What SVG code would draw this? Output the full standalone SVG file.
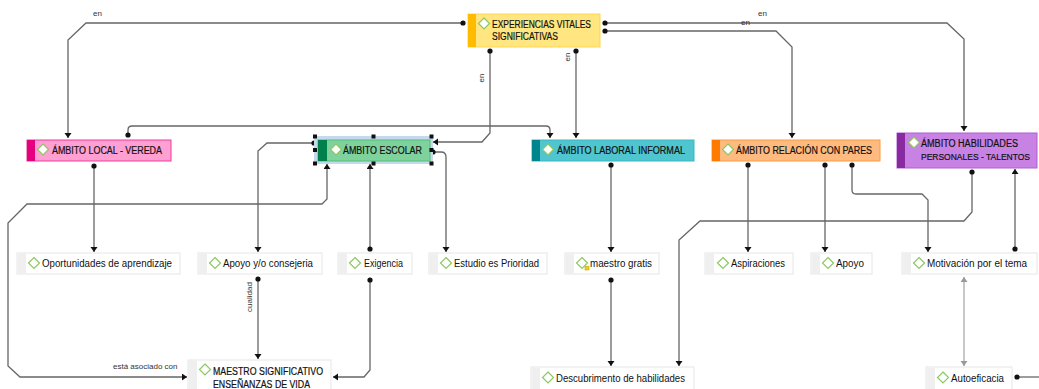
<svg xmlns="http://www.w3.org/2000/svg" width="1039" height="389" viewBox="0 0 1039 389">
<style>
.t{font-family:"Liberation Sans",Arial,sans-serif;font-size:10px;fill:#111}
.h{font-family:"Liberation Sans",Arial,sans-serif;font-size:10px;fill:#111;stroke:#111;stroke-width:0.2}
.lb{font-family:"Liberation Sans",Arial,sans-serif;font-size:8px;fill:#333}
.c{fill:none;stroke:#666;stroke-width:1.3}
.cg{fill:none;stroke:#aaa;stroke-width:1.3}
.dia{fill:#fff;stroke:#8cc861;stroke-width:1.2}
.ls{fill:#efefef}
.lbody{fill:#fff;stroke:#e6e6e6;stroke-width:1}
.hd{fill:#111}
</style>
<defs>
<marker id="arr" markerUnits="userSpaceOnUse" markerWidth="8" markerHeight="8" refX="5" refY="3.5" orient="auto"><path d="M0,0 L5,3.5 L0,7z" fill="#111"/></marker>
<marker id="arrs" markerUnits="userSpaceOnUse" markerWidth="8" markerHeight="8" refX="5" refY="3.5" orient="auto-start-reverse"><path d="M0,0 L5,3.5 L0,7z" fill="#111"/></marker>
<marker id="arrg" markerUnits="userSpaceOnUse" markerWidth="8" markerHeight="8" refX="5" refY="3.5" orient="auto-start-reverse"><path d="M0,0 L5,3.5 L0,7z" fill="#999"/></marker>
<marker id="dot" markerUnits="userSpaceOnUse" markerWidth="7" markerHeight="7" refX="3.5" refY="3.5" orient="auto"><circle cx="3.5" cy="3.5" r="2.6" fill="#111"/></marker>
</defs>

<g id="connectors">
<path class="c" d="M463,23 H86 L68,40 V138" marker-start="url(#dot)" marker-end="url(#arr)"/>
<path class="c" d="M605,23 H947 L964,39 V131" marker-start="url(#dot)" marker-end="url(#arr)"/>
<path class="c" d="M605,31 H776 L792,47 V138" marker-start="url(#dot)" marker-end="url(#arr)"/>
<path class="c" d="M490,51 V133 L482,142 H433" marker-start="url(#dot)" marker-end="url(#arr)"/>
<path class="c" d="M576,51 V138" marker-start="url(#dot)" marker-end="url(#arr)"/>
<path class="c" d="M128,135 V130 Q128,126 132,126 H546 Q550,126 550,130 V138" marker-start="url(#dot)" marker-end="url(#arr)"/>
<path class="c" d="M94,166 V252" marker-start="url(#dot)" marker-end="url(#arr)"/>
<path class="c" d="M314,143 H267 L258,151 V252" marker-start="url(#dot)" marker-end="url(#arr)"/>
<path class="c" d="M370,249 V164" marker-start="url(#dot)" marker-end="url(#arr)"/>
<path class="c" d="M433,152 H441 Q446,152 446,157 V252" marker-start="url(#dot)" marker-end="url(#arr)"/>
<path class="c" d="M370,280 V370 L364,377 H333" marker-start="url(#dot)" marker-end="url(#arr)"/>
<path class="c" d="M258,279 V359" marker-start="url(#dot)" marker-end="url(#arr)"/>
<path class="c" d="M187,377 H20 L8,366 V223 L27,204 H322 L327,199 V164" marker-start="url(#arrs)" marker-end="url(#arrs)"/>
<path class="c" d="M611,165 V252" marker-start="url(#dot)" marker-end="url(#arr)"/>
<path class="c" d="M611,280 V366" marker-start="url(#dot)" marker-end="url(#arr)"/>
<path class="c" d="M972,172 V212 L964,221 H700 L679,240 V366" marker-start="url(#dot)" marker-end="url(#arr)"/>
<path class="c" d="M748,165 V252" marker-start="url(#dot)" marker-end="url(#arr)"/>
<path class="c" d="M825,165 V252" marker-start="url(#dot)" marker-end="url(#arr)"/>
<path class="c" d="M852,165 V190 Q852,194 856,194 H922 L928,200 V252" marker-start="url(#dot)" marker-end="url(#arr)"/>
<path class="c" d="M1015,249 V169" marker-start="url(#dot)" marker-end="url(#arr)"/>
<path class="cg" d="M964,277 V366" marker-start="url(#arrg)" marker-end="url(#arrg)"/>
<path class="c" d="M1017,377 H1039" marker-start="url(#dot)"/>
<text class="lb" x="93" y="16">en</text>
<text class="lb" x="758" y="16">en</text>
<text class="lb" x="741" y="25">en</text>
<text class="lb" transform="translate(484,78) rotate(-90)" text-anchor="middle">en</text>
<text class="lb" transform="translate(570,57) rotate(-90)" text-anchor="middle">en</text>
<text class="lb" transform="translate(252,297) rotate(-90)" text-anchor="middle">cualidad</text>
<text class="lb" x="113" y="369">está asociado con</text>
</g>

<g id="n-experiencias">
<rect x="468" y="14" width="132" height="33" fill="#ffe680" stroke="#ffd54f"/>
<rect x="468" y="14" width="8" height="33" fill="#ffbb00"/>
<path class="dia" d="M484,18 L489.5,23.5 L484,29 L478.5,23.5z"/>
<text class="h" x="492" y="27.5" textLength="99" lengthAdjust="spacingAndGlyphs">EXPERIENCIAS VITALES</text>
<text class="h" x="492" y="39.5" textLength="66" lengthAdjust="spacingAndGlyphs">SIGNIFICATIVAS</text>
</g>

<g id="n-local">
<rect x="27" y="140" width="144" height="21" fill="#ff9fd2" stroke="#ee3b9e"/>
<rect x="27" y="140" width="8" height="21" fill="#e6007e"/>
<path class="dia" d="M43,144 L48.5,149.5 L43,155 L37.5,149.5z"/>
<text class="h" x="52" y="153.5" textLength="110" lengthAdjust="spacingAndGlyphs">ÁMBITO LOCAL - VEREDA</text>
</g>

<g id="n-escolar">
<rect x="314" y="136" width="119" height="28" fill="#c6d8ec"/>
<rect x="318" y="140" width="112" height="21" fill="#7fd29c" stroke="#4fbf77"/>
<rect x="318" y="140" width="9" height="21" fill="#00804a"/>
<path class="dia" d="M336,144 L341.5,149.5 L336,155 L330.5,149.5z"/>
<text class="h" x="343" y="153.5" textLength="79" lengthAdjust="spacingAndGlyphs">ÁMBITO ESCOLAR</text>
<rect class="hd" x="313" y="134.5" width="4" height="4"/>
<rect class="hd" x="371.5" y="134.5" width="4" height="4"/>
<rect class="hd" x="429.5" y="134.5" width="4" height="4"/>
<rect class="hd" x="313" y="161.5" width="4" height="4"/>
<rect class="hd" x="371.5" y="161.5" width="4" height="4"/>
<rect class="hd" x="429.5" y="161.5" width="4" height="4"/>
<rect class="hd" x="313" y="148" width="4" height="4"/>
<rect class="hd" x="429.5" y="148" width="4" height="4"/>
</g>

<g id="n-laboral">
<rect x="532" y="140" width="162" height="21" fill="#4fc6cf" stroke="#3bb8c2"/>
<rect x="532" y="140" width="8" height="21" fill="#00858c"/>
<path class="dia" d="M548,144 L553.5,149.5 L548,155 L542.5,149.5z"/>
<text class="h" x="557" y="153.5" textLength="128" lengthAdjust="spacingAndGlyphs">ÁMBITO LABORAL INFORMAL</text>
</g>

<g id="n-relacion">
<rect x="712" y="140" width="168" height="21" fill="#ffba80" stroke="#ff9a3c"/>
<rect x="712" y="140" width="8" height="21" fill="#ff7a00"/>
<path class="dia" d="M728,144 L733.5,149.5 L728,155 L722.5,149.5z"/>
<text class="h" x="736" y="153.5" textLength="136" lengthAdjust="spacingAndGlyphs">ÁMBITO RELACIÓN CON PARES</text>
</g>

<g id="n-habilidades">
<rect x="897" y="133" width="140" height="35" fill="#c882e4" stroke="#b060d0"/>
<rect x="897" y="133" width="8" height="35" fill="#8a2aa0"/>
<path class="dia" d="M914,137 L919.5,142.5 L914,148 L908.5,142.5z"/>
<text class="h" x="921" y="146.5" textLength="97" lengthAdjust="spacingAndGlyphs">ÁMBITO HABILIDADES</text>
<text class="h" x="921" y="159.5" style="font-size:9.3px" textLength="109" lengthAdjust="spacingAndGlyphs">PERSONALES - TALENTOS</text>
</g>

<g id="n-oportunidades">
<rect class="lbody" x="17" y="253" width="163" height="21"/>
<rect class="ls" x="17.5" y="253.5" width="8.5" height="20"/>
<path class="dia" d="M34,257.5 L39.5,263 L34,268.5 L28.5,263z"/>
<text class="t" x="42" y="267" textLength="130" lengthAdjust="spacingAndGlyphs">Oportunidades de aprendizaje</text>
</g>

<g id="n-apoyo-consejeria">
<rect class="lbody" x="198" y="253" width="124" height="21"/>
<rect class="ls" x="198.5" y="253.5" width="8.5" height="20"/>
<path class="dia" d="M215,257.5 L220.5,263 L215,268.5 L209.5,263z"/>
<text class="t" x="223" y="267" textLength="90" lengthAdjust="spacingAndGlyphs">Apoyo y/o consejeria</text>
</g>

<g id="n-exigencia">
<rect class="lbody" x="338" y="253" width="74" height="21"/>
<rect class="ls" x="338.5" y="253.5" width="8.5" height="20"/>
<path class="dia" d="M355,257.5 L360.5,263 L355,268.5 L349.5,263z"/>
<text class="t" x="364" y="267" textLength="39" lengthAdjust="spacingAndGlyphs">Exigencia</text>
</g>

<g id="n-estudio">
<rect class="lbody" x="429" y="253" width="118" height="21"/>
<rect class="ls" x="429.5" y="253.5" width="8.5" height="20"/>
<path class="dia" d="M446,257.5 L451.5,263 L446,268.5 L440.5,263z"/>
<text class="t" x="454" y="267" textLength="85" lengthAdjust="spacingAndGlyphs">Estudio es Prioridad</text>
</g>

<g id="n-maestro-gratis">
<rect class="lbody" x="565" y="253" width="94" height="21"/>
<rect class="ls" x="565.5" y="253.5" width="8.5" height="20"/>
<path class="dia" d="M582,257.5 L587.5,263 L582,268.5 L576.5,263z"/>
<rect x="585" y="266.5" width="4" height="3.5" fill="#f5d000" stroke="#b89a00" stroke-width="0.5"/>
<text class="t" x="590" y="267" textLength="62" lengthAdjust="spacingAndGlyphs">maestro gratis</text>
</g>

<g id="n-aspiraciones">
<rect class="lbody" x="705" y="253" width="88" height="21"/>
<rect class="ls" x="705.5" y="253.5" width="8.5" height="20"/>
<path class="dia" d="M723,257.5 L728.5,263 L723,268.5 L717.5,263z"/>
<text class="t" x="731" y="267" textLength="54" lengthAdjust="spacingAndGlyphs">Aspiraciones</text>
</g>

<g id="n-apoyo">
<rect class="lbody" x="811" y="253" width="61" height="21"/>
<rect class="ls" x="811.5" y="253.5" width="8.5" height="20"/>
<path class="dia" d="M828,257.5 L833.5,263 L828,268.5 L822.5,263z"/>
<text class="t" x="836" y="267" textLength="28" lengthAdjust="spacingAndGlyphs">Apoyo</text>
</g>

<g id="n-motivacion">
<rect class="lbody" x="902" y="253" width="135" height="21"/>
<rect class="ls" x="902.5" y="253.5" width="8.5" height="20"/>
<path class="dia" d="M919,257.5 L924.5,263 L919,268.5 L913.5,263z"/>
<text class="t" x="927" y="267" textLength="100" lengthAdjust="spacingAndGlyphs">Motivación por el tema</text>
</g>

<g id="n-maestro-significativo">
<rect class="lbody" x="188" y="360" width="143" height="30"/>
<rect class="ls" x="188.5" y="360.5" width="8.5" height="29"/>
<path class="dia" d="M205,364 L210.5,369.5 L205,375 L199.5,369.5z"/>
<text class="h" x="213" y="375" textLength="110" lengthAdjust="spacingAndGlyphs">MAESTRO SIGNIFICATIVO</text>
<text class="h" x="213" y="387.5" textLength="97" lengthAdjust="spacingAndGlyphs">ENSEÑANZAS DE VIDA</text>
</g>

<g id="n-descubrimento">
<rect class="lbody" x="531" y="367" width="163" height="23"/>
<rect class="ls" x="531.5" y="367.5" width="8.5" height="22"/>
<path class="dia" d="M548,372 L553.5,377.5 L548,383 L542.5,377.5z"/>
<text class="t" x="556" y="381.5" textLength="129" lengthAdjust="spacingAndGlyphs">Descubrimento de habilidades</text>
</g>

<g id="n-autoeficacia">
<rect class="lbody" x="926" y="367" width="86" height="23"/>
<rect class="ls" x="926.5" y="367.5" width="8.5" height="22"/>
<path class="dia" d="M943,372 L948.5,377.5 L943,383 L937.5,377.5z"/>
<text class="t" x="951" y="381.5" textLength="53" lengthAdjust="spacingAndGlyphs">Autoeficacia</text>
</g>
</svg>
